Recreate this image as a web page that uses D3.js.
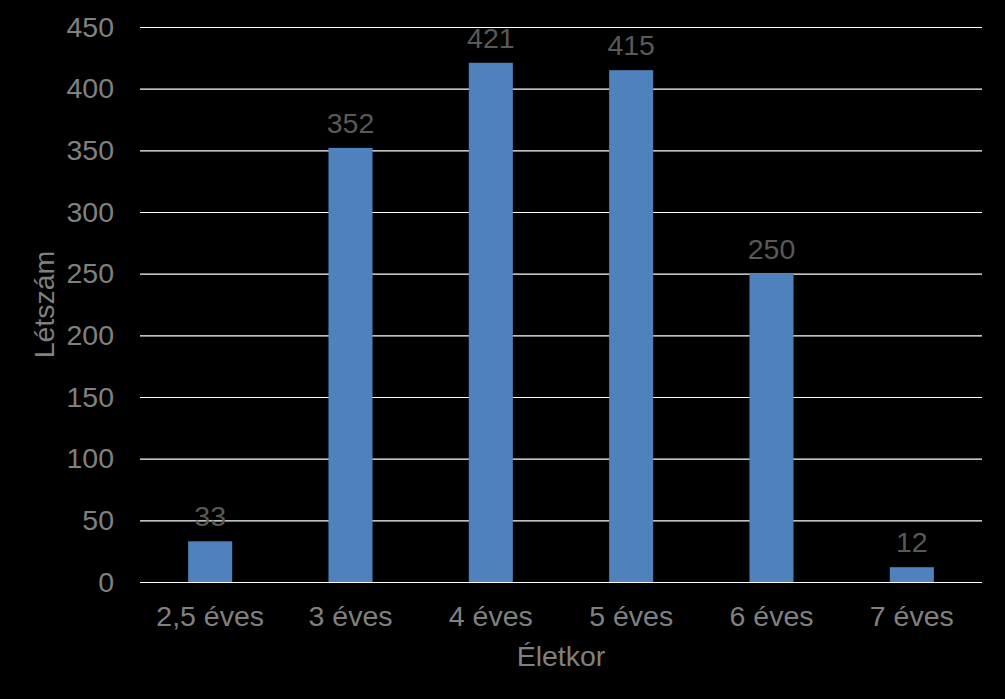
<!DOCTYPE html>
<html><head><meta charset="utf-8">
<script src="https://cdn.jsdelivr.net/npm/d3@7"></script>
<style>html,body{margin:0;padding:0;background:#000;}</style>
</head><body>
<svg id="c" width="1005" height="699"></svg>
<script>
const categories = ["2,5 éves","3 éves","4 éves","5 éves","6 éves","7 éves"];
const values = [33,352,421,415,250,12];
const yTicks = [0,50,100,150,200,250,300,350,400,450];
const xTitle = "Életkor";
const yTitle = "Létszám";

const svg = d3.select("#c");
svg.append("rect").attr("width",1005).attr("height",699).attr("fill","#000");
const m = {l:140, r:982, t:27, b:582};
const x = d3.scaleBand().domain(categories).range([m.l,m.r]).paddingInner(0.686).paddingOuter(0.343);
const y = d3.scaleLinear().domain([0,450]).range([m.b,m.t]);
const font = "Liberation Sans, Arial, sans-serif";
const fs = "28.5px";

const yAxis = svg.append("g").attr("transform",`translate(${m.l},0)`)
  .call(d3.axisLeft(y).tickValues(yTicks).tickSize(-(m.r-m.l)).tickPadding(26));
yAxis.select(".domain").remove();
yAxis.selectAll(".tick line").attr("stroke","#ffffff").attr("stroke-width",1.2);
yAxis.selectAll(".tick text").attr("fill","#808080").style("font-family",font).style("font-size",fs);

svg.append("g").selectAll("rect").data(values).join("rect")
  .attr("x",(d,i)=>x(categories[i])).attr("width",x.bandwidth())
  .attr("y",d=>y(d)).attr("height",d=>y(0)-y(d)).attr("fill","#4F81BD");

svg.append("g").selectAll("text").data(values).join("text")
  .attr("x",(d,i)=>x(categories[i])+x.bandwidth()/2).attr("y",d=>y(d)-15)
  .attr("text-anchor","middle").attr("fill","#595959")
  .style("font-family",font).style("font-size",fs).text(d=>d);

const xAxis = svg.append("g").attr("transform",`translate(0,${m.b})`)
  .call(d3.axisBottom(x).tickSize(0));
xAxis.select(".domain").remove();
xAxis.selectAll(".tick text").attr("y",44).attr("dy",0).attr("fill","#808080").style("font-family",font).style("font-size",fs);

svg.append("text").attr("x",(m.l+m.r)/2).attr("y",666).attr("text-anchor","middle")
  .attr("fill","#808080").style("font-family",font).style("font-size",fs).text(xTitle);
svg.append("text").attr("transform",`translate(54,${(m.t+m.b)/2}) rotate(-90)`).attr("text-anchor","middle")
  .attr("fill","#808080").style("font-family",font).style("font-size",fs).text(yTitle);
</script>
</body></html>
